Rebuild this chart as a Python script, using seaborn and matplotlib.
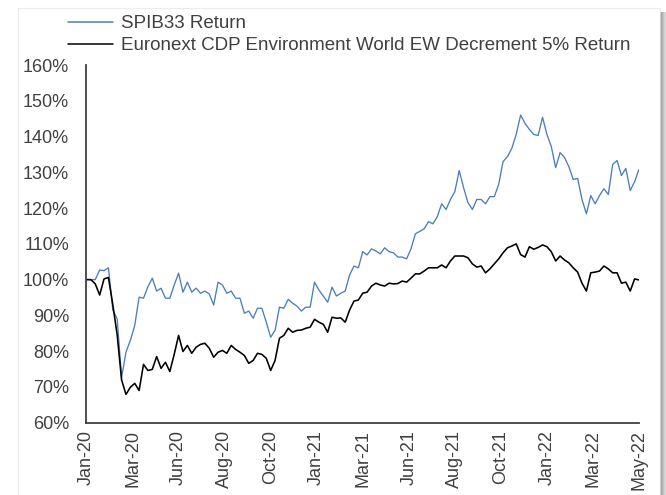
import numpy as np
import pandas as pd
import matplotlib
matplotlib.use("Agg")
import matplotlib.pyplot as plt
import seaborn as sns
from matplotlib.patches import Rectangle

# Cumulative total return (%) of each index, one value per observation
spib33 = [
    100.0, 100.0, 100.0, 102.7, 102.5, 103.3, 91.5, 89.0, 72.6, 79.7, 83.0,
    87.2, 95.1, 94.8, 98.0, 100.4, 96.8, 97.6, 94.8, 94.8, 98.5,
    101.8, 96.5, 99.3, 96.5, 97.6, 96.2, 96.8, 96.0, 92.9, 99.3,
    98.5, 96.2, 96.8, 94.8, 94.8, 90.6, 91.2, 89.2, 92.0, 92.0,
    88.1, 83.9, 85.8, 92.3, 92.0, 94.5, 93.4, 92.6, 91.2, 92.3,
    92.3, 99.3, 97.1, 95.4, 93.7, 97.9, 95.4, 96.2, 96.8, 101.3,
    103.8, 103.3, 107.8, 106.9, 108.6, 108.0, 107.2, 108.9, 107.8, 107.5,
    106.3, 106.3, 105.8, 108.6, 112.8, 113.5, 114.2, 116.2, 115.6, 117.6,
    121.2, 119.6, 122.4, 124.6, 130.5, 125.7, 121.5, 119.6, 122.4, 122.4,
    121.2, 123.2, 123.2, 126.6, 133.0, 134.4, 136.7, 140.6, 146.0, 143.7,
    142.0, 140.6, 140.3, 145.4, 140.6, 137.2, 131.3, 135.5, 134.2, 131.6,
    128.0, 128.3, 122.4, 118.4, 123.5, 121.2, 123.5, 125.4, 123.8, 132.2,
    133.3, 129.1, 131.1, 124.9, 127.4, 130.8,
]

euronext_cdp = [
    100.0, 100.0, 98.8, 95.7, 100.2, 100.6, 93.0, 84.5, 72.0, 67.9, 69.9,
    71.0, 69.0, 76.3, 74.6, 74.9, 78.5, 75.2, 76.9, 74.3, 79.1,
    84.4, 79.9, 81.6, 79.4, 81.1, 81.9, 82.2, 80.8, 78.3, 79.7,
    80.2, 79.4, 81.6, 80.5, 79.7, 78.8, 76.6, 77.4, 79.4, 79.1,
    78.0, 74.6, 77.4, 83.6, 84.4, 86.4, 85.3, 85.8, 85.9, 86.4,
    86.7, 88.9, 88.1, 87.5, 85.3, 89.5, 89.2, 89.3, 88.1, 91.5,
    94.0, 94.3, 96.2, 96.5, 98.2, 99.0, 98.5, 98.2, 99.0, 98.8,
    98.9, 99.6, 99.3, 100.4, 101.6, 101.6, 102.4, 103.3, 103.3, 103.3,
    104.1, 103.3, 105.2, 106.6, 106.6, 106.6, 106.1, 104.4, 103.5, 103.8,
    101.9, 103.0, 104.4, 105.8, 107.5, 108.9, 109.4, 110.0, 107.0, 106.3,
    109.2, 108.5, 109.0, 109.7, 109.2, 107.8, 105.2, 106.6, 105.5, 104.7,
    103.3, 102.1, 99.0, 96.8, 101.9, 102.1, 102.4, 103.8, 103.0, 101.9,
    101.9, 99.0, 99.3, 96.8, 100.2, 99.9,
]

tick_labels = ["Jan-20", "Mar-20", "Jun-20", "Aug-20", "Oct-20", "Jan-21",
               "Mar-21", "Jun-21", "Aug-21", "Oct-21", "Jan-22", "Mar-22", "May-22"]
series_names = ["SPIB33 Return",
                "Euronext CDP Environment World EW Decrement 5% Return"]
y_ticks = [60, 70, 80, 90, 100, 110, 120, 130, 140, 150, 160]

line_colors = ["#4a7ebb", "#000000"]
text_color = "#404040"
axis_color = "#404040"

sns.set_style("white")
plt.rcParams["font.family"] = ["Liberation Sans", "DejaVu Sans"]

n_obs = len(spib33)
df = pd.DataFrame({
    "obs": np.arange(n_obs),
    series_names[0]: spib33,
    series_names[1]: euronext_cdp,
}).melt(id_vars="obs", var_name="series", value_name="ret")

fig = plt.figure(figsize=(6.66, 4.95), dpi=100)
fig.patch.set_facecolor("white")

W, H = 666.0, 495.0
ax_left, ax_right, ax_bottom, ax_top = 86.5, 639, 422.7, 65
ax = fig.add_axes([ax_left / W, 1 - ax_bottom / H,
                   (ax_right - ax_left) / W, (ax_bottom - ax_top) / H])

sns.lineplot(data=df, x="obs", y="ret", hue="series", hue_order=series_names,
             palette=line_colors, ax=ax, legend=False, estimator=None)
ax.lines[0].set_linewidth(0.95)
ax.lines[1].set_linewidth(1.15)

ax.set_xlim(0, n_obs - 1)
ax.set_ylim(60, 160)
ax.set_xlabel("")
ax.set_ylabel("")

ax.set_yticks(y_ticks)
ax.set_yticklabels([f"{v}%" for v in y_ticks])
ax.set_xticks(np.linspace(0, n_obs - 1, len(tick_labels)))
ax.set_xticklabels(tick_labels, rotation=90)

for side in ["top", "right"]:
    ax.spines[side].set_visible(False)
for side in ["left", "bottom"]:
    ax.spines[side].set_color(axis_color)
    ax.spines[side].set_linewidth(1.3)

ax.tick_params(axis="both", direction="inout", length=7, width=1.3,
               color=axis_color, labelcolor=text_color, labelsize=13)
ax.tick_params(axis="y", pad=9)
ax.tick_params(axis="x", pad=2)
ax.set_facecolor("white")

leg = fig.legend(ax.lines[:2], series_names, loc="upper left",
                 bbox_to_anchor=(68 / W, 1 - 15 / H), frameon=False,
                 fontsize=13.5, handlelength=2.4, handletextpad=0.45,
                 labelspacing=0.28, borderpad=0, borderaxespad=0)
for t in leg.get_texts():
    t.set_color(text_color)
for h in leg.get_lines():
    h.set_linewidth(1.1)

# thin page frame and drop shadow on the right edge
fig.patches.append(Rectangle((18 / W, 0), (660 - 18) / W, 1 - 8 / H,
                             transform=fig.transFigure, fill=False,
                             edgecolor="#ececec", linewidth=0.8, zorder=-1))
shadow_grays = ["#d0d0d0", "#a8a8a8", "#b4b4b4", "#c2c2c2", "#cfcfcf", "#dcdcdc"]
for k, g in enumerate(shadow_grays):
    fig.patches.append(Rectangle(((660 + k) / W, 0), 1 / W, 1 - 12 / H,
                                 transform=fig.transFigure, facecolor=g,
                                 edgecolor="none", zorder=-1))

fig.savefig("out.png", dpi=100, facecolor="white")
